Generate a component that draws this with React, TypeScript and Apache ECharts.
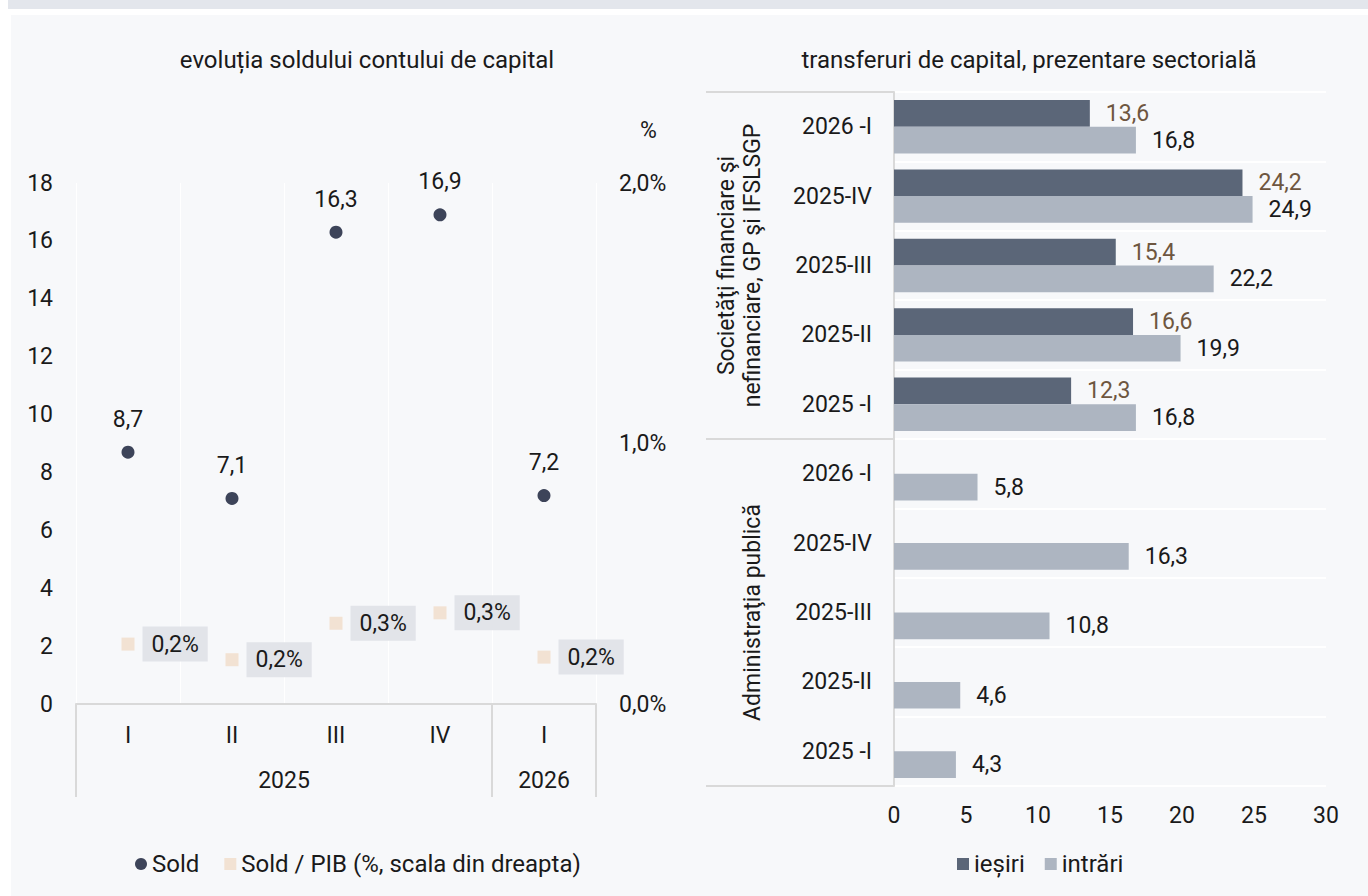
import React, { useEffect, useRef } from "react";
import * as echarts from "echarts";

const quarters = ["I", "II", "III", "IV", "I"];
const years = ["2025", "2026"];
const yearBounds = [0, 4, 5];
const yearCenters = [2, 4.5];
const sold = [8.7, 7.1, 16.3, 16.9, 7.2];
const soldPib = [0.23, 0.17, 0.31, 0.35, 0.18];

const periods = ["2025 -I", "2025-II", "2025-III", "2025-IV", "2026 -I"];
const sectors = ["Administraţia publică", "Societăţi financiare şi\nnefinanciare, GP şi IFSLSGP"];
const sectorBounds = [0, 5, 10];
const sectorCenters = [2.5, 7.5];
const iesiri = [null, null, null, null, null, 12.3, 16.6, 15.4, 24.2, 13.6];
const intrari = [4.3, 4.6, 10.8, 16.3, 5.8, 16.8, 19.9, 22.2, 24.9, 16.8];

const FONT = "Roboto, sans-serif";
const TXT = "#1a1a1a";
const LINE = "#d9d9d9";
const fmt1 = (v: number) => v.toFixed(1).replace(".", ",");

export default function App() {
  const ref = useRef<HTMLDivElement>(null);
  useEffect(() => {
    if (!ref.current) return;
    const chart = echarts.init(ref.current, null, { renderer: "svg" });
    const ts = { fontFamily: FONT, fontSize: 23, color: TXT };
    chart.setOption({
      animation: false,
      textStyle: { fontFamily: FONT },
      title: [
        { text: "evoluția soldului contului de capital", left: 362, top: 43, textAlign: "center", textStyle: { ...ts, fontSize: 24, fontWeight: "normal" } },
        { text: "transferuri de capital, prezentare sectorială", left: 1024, top: 43, textAlign: "center", textStyle: { ...ts, fontSize: 24, fontWeight: "normal" } },
      ],
      legend: [
        {
          left: 130, top: 847, itemWidth: 12, itemHeight: 12, itemGap: 25,
          textStyle: { ...ts, fontSize: 24 },
          data: [
            { name: "Sold", icon: "circle" },
            { name: "Sold / PIB (%, scala din dreapta)", icon: "rect" },
          ],
        },
        {
          left: 952, top: 847, itemWidth: 12, itemHeight: 12, itemGap: 20,
          textStyle: { ...ts, fontSize: 24 },
          data: [
            { name: "ieșiri", icon: "rect" },
            { name: "intrări", icon: "rect" },
          ],
        },
      ],
      grid: [
        { left: 76, right: 772, top: 183, bottom: 192 },
        { left: 894, right: 42, top: 92, bottom: 110 },
      ],
      xAxis: [
        {
          type: "category", gridIndex: 0, data: quarters, position: "bottom",
          axisLine: { show: true, lineStyle: { color: LINE, width: 2 } },
          axisTick: { show: false },
          axisLabel: { ...ts, margin: 20 },
          splitLine: { show: true, lineStyle: { color: "#ffffff", width: 1 } },
        },
        {
          type: "value", gridIndex: 0, min: 0, max: 5, position: "bottom",
          axisLine: { show: false },
          axisTick: { show: true, customValues: yearBounds, length: 93, lineStyle: { color: LINE, width: 2 } },
          axisLabel: { ...ts, margin: 65, customValues: yearCenters, formatter: (v: number) => (v < 4 ? years[0] : years[1]) },
          splitLine: { show: false },
        },
        {
          type: "value", gridIndex: 1, min: 0, max: 30, interval: 5,
          axisLine: { show: false }, axisTick: { show: false },
          axisLabel: { ...ts, margin: 18 },
          splitLine: { show: false },
        },
      ],
      yAxis: [
        {
          type: "value", gridIndex: 0, min: 0, max: 18, interval: 2,
          axisLine: { show: false }, axisTick: { show: false },
          axisLabel: { ...ts, margin: 23 },
          splitLine: { show: false },
        },
        {
          type: "value", gridIndex: 0, min: 0, max: 2, interval: 1, position: "right",
          name: "%", nameLocation: "end", nameGap: 41,
          nameTextStyle: { ...ts, align: "left", padding: [0, 0, 0, 44] },
          axisLine: { show: false }, axisTick: { show: false },
          axisLabel: { ...ts, margin: 23, formatter: (v: number) => fmt1(v) + "%" },
          splitLine: { show: false },
        },
        {
          type: "category", gridIndex: 1, data: [...periods, ...periods],
          axisLine: { show: true, lineStyle: { color: LINE, width: 2 } },
          axisTick: { show: false },
          axisLabel: { ...ts, margin: 22 },
          splitLine: { show: true, lineStyle: { color: "#ffffff", width: 2 } },
        },
        {
          type: "value", gridIndex: 1, min: 0, max: 10, position: "left",
          axisLine: { show: false },
          axisTick: { show: true, customValues: sectorBounds, length: 188, lineStyle: { color: LINE, width: 2 } },
          axisLabel: {
            ...ts, margin: 129, rotate: 90, lineHeight: 26, customValues: sectorCenters,
            formatter: (v: number) => (v < 5 ? sectors[0] : sectors[1]),
          },
          splitLine: { show: false },
        },
      ],
      series: [
        {
          name: "Sold", type: "scatter", xAxisIndex: 0, yAxisIndex: 0,
          symbol: "circle", symbolSize: 13, data: sold,
          itemStyle: { color: "#3d4459", opacity: 1 },
          label: { show: true, position: "top", distance: 15, ...ts, formatter: (p: any) => fmt1(p.value) },
        },
        {
          name: "Sold / PIB (%, scala din dreapta)", type: "scatter", xAxisIndex: 0, yAxisIndex: 1,
          symbol: "rect", symbolSize: 13, data: soldPib,
          itemStyle: { color: "#f2e2d3", opacity: 1 },
          label: {
            show: true, position: "right", distance: 8, ...ts,
            backgroundColor: "#e2e4e9", padding: [6, 9],
            formatter: (p: any) => fmt1(p.value) + "%",
          },
        },
        {
          name: "ieșiri", type: "bar", xAxisIndex: 2, yAxisIndex: 2, data: iesiri,
          barGap: "0%", barCategoryGap: "23%",
          itemStyle: { color: "#5b6678" },
          label: { show: true, position: "right", distance: 16, ...ts, color: "#6e5640", formatter: (p: any) => fmt1(p.value) },
        },
        {
          name: "intrări", type: "bar", xAxisIndex: 2, yAxisIndex: 2, data: intrari,
          barGap: "0%", barCategoryGap: "23%",
          itemStyle: { color: "#adb5c1" },
          label: { show: true, position: "right", distance: 16, ...ts, formatter: (p: any) => fmt1(p.value) },
        },
      ],
    });
    return () => chart.dispose();
  }, []);

  return (
    <div style={{ position: "fixed", left: 0, top: 0, width: 1368, height: 896, background: "#ffffff", overflow: "hidden" }}>
      <div style={{ position: "absolute", left: 8, top: 0, width: 1360, height: 9, background: "#e3e6ec" }} />
      <div style={{ position: "absolute", left: 11, top: 15, width: 1357, height: 881, background: "#f7f8fa" }} />
      <div ref={ref} style={{ position: "absolute", left: 0, top: 0, width: 1368, height: 896 }} />
    </div>
  );
}
